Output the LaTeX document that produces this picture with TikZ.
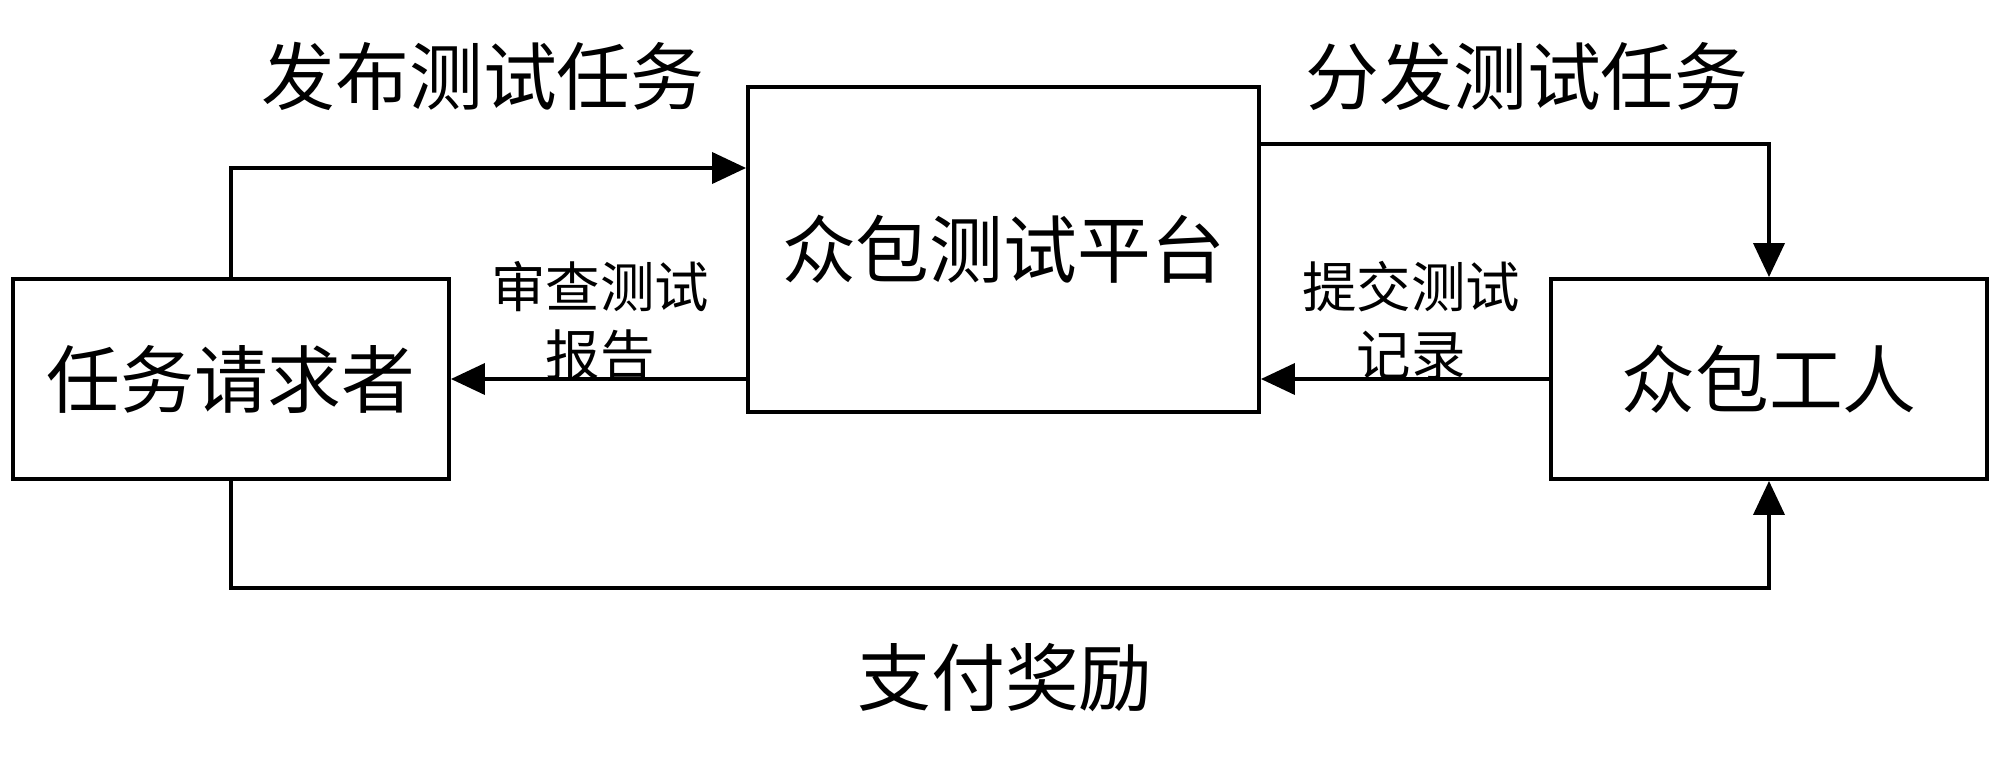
\documentclass[tikz,border=0pt]{standalone}
\usepackage{fontspec}
\usepackage{tikz}
\usetikzlibrary{arrows.meta}
\newfontfamily\cjk{Noto Sans CJK SC}
\newcommand{\bigcjk}{\cjk\fontsize{21}{25}\selectfont}
\newcommand{\smallcjk}{\cjk\fontsize{15.5}{19.4}\selectfont}

\begin{document}
\begin{tikzpicture}[
  box/.style={draw, line width=1.1pt, inner sep=0pt, font=\bigcjk},
  flow/.style={line width=1.1pt, -{Triangle[length=3.4mm, width=3.1mm]}},
  lbl/.style={font=\bigcjk, inner sep=0pt},
  note/.style={font=\smallcjk, align=center, inner sep=0pt}
]
\useasboundingbox (0,0) rectangle (20,-7.59);
%%
\node[box, minimum width=4.36cm, minimum height=2.0cm] (req) at (2.31,-3.79) {任务请求者};
\node[box, minimum width=5.11cm, minimum height=3.25cm] (plat) at (10.035,-2.495) {众包测试平台};
\node[box, minimum width=4.36cm, minimum height=2.0cm] (wkr) at (17.69,-3.79) {众包工人};
%%
\draw[flow] (req.north) |- ([yshift=0.815cm]plat.west);
\draw[flow] ([yshift=1.055cm]plat.east) -| (wkr.north);
\draw[flow] (plat.west |- req.east) -- (req.east);
\draw[flow] (wkr.west) -- (plat.east |- wkr.west);
\draw[flow] (req.south) -- ++(0,-1.07) -| (wkr.south);
%%
\node[lbl] (publish) at (4.83,-0.76) {发布测试任务};
\node[lbl] (dispatch) at (15.27,-0.76) {分发测试任务};
\node[note] (review) at (6.0,-3.21) {审查测试\\报告};
\node[note] (submit) at (14.11,-3.21) {提交测试\\记录};
\node[lbl] (pay) at (10.05,-6.78) {支付奖励};
\end{tikzpicture}
\end{document}
